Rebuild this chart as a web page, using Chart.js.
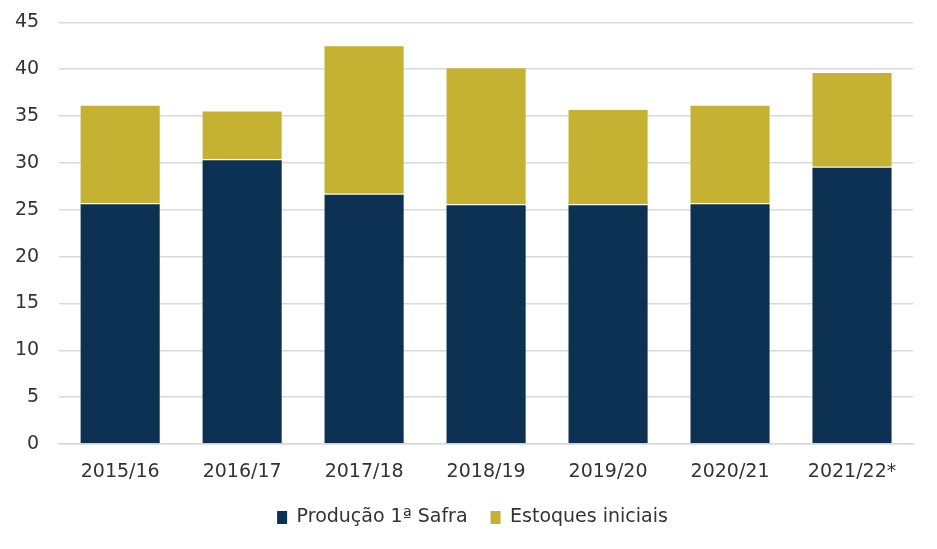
<!DOCTYPE html>
<html>
<head>
<meta charset="utf-8">
<script src="https://cdn.jsdelivr.net/npm/chart.js@4/dist/chart.umd.min.js"></script>
<style>
  html, body { margin: 0; padding: 0; background: #fff; }
  #wrap { width: 937px; height: 549px; position: relative; }
</style>
</head>
<body>
<div id="wrap"><canvas id="chart"></canvas></div>
<script>
const categories = ["2015/16", "2016/17", "2017/18", "2018/19", "2019/20", "2020/21", "2021/22*"];
const producao = [25.7, 30.4, 26.7, 25.6, 25.6, 25.7, 29.6];
const estoques = [10.5, 5.2, 15.85, 14.6, 10.15, 10.5, 10.1];
const yTicks = [0, 5, 10, 15, 20, 25, 30, 35, 40, 45];

const fontFamily = "'DejaVu Sans', sans-serif";

// nudge the legend a bit to the right, like the original
const legendShift = {
  id: "legendShift",
  afterLayout(chart) {
    chart.legend.left += 14;
    chart.legend.right += 14;
  }
};

new Chart(document.getElementById("chart"), {
  type: "bar",
  data: {
    labels: categories,
    datasets: [
      { label: "Produção 1ª Safra", data: producao, backgroundColor: "#0C3152",
        borderColor: "rgba(255,255,255,0.3)", borderWidth: 1 },
      { label: "Estoques iniciais", data: estoques, backgroundColor: "#C6B232",
        borderColor: "rgba(255,255,255,0.3)", borderWidth: 1 }
    ]
  },
  options: {
    responsive: true,
    maintainAspectRatio: false,
    animation: false,
    layout: { padding: { left: 4, right: 24, top: 4, bottom: 12 } },
    datasets: { bar: { categoryPercentage: 1, barPercentage: 0.665 } },
    plugins: {
      tooltip: { enabled: false },
      legend: {
        position: "bottom",
        labels: {
          color: "#333",
          font: { family: fontFamily, size: 19 },
          boxWidth: 10,
          boxHeight: 13,
          padding: 23,
          generateLabels: chart => Chart.defaults.plugins.legend.labels.generateLabels(chart)
            .map(l => Object.assign(l, { lineWidth: 0 }))
        }
      }
    },
    scales: {
      x: {
        stacked: true,
        grid: { display: false },
        border: { color: "#d9d9d9", width: 1.5 },
        ticks: { color: "#333", font: { family: fontFamily, size: 19 }, padding: 8.5 },
        afterFit: scale => { scale.height = 41; }
      },
      y: {
        stacked: true,
        min: 0,
        max: 45,
        afterBuildTicks: axis => { axis.ticks = yTicks.map(v => ({ value: v })); },
        grid: { color: "#d9d9d9", lineWidth: 1.5, drawTicks: true, tickLength: 9, tickColor: "rgba(0,0,0,0)" },
        border: { display: false },
        ticks: { color: "#333", font: { family: fontFamily, size: 19 }, padding: 11 }
      }
    }
  },
  plugins: [legendShift]
});
</script>
</body>
</html>
